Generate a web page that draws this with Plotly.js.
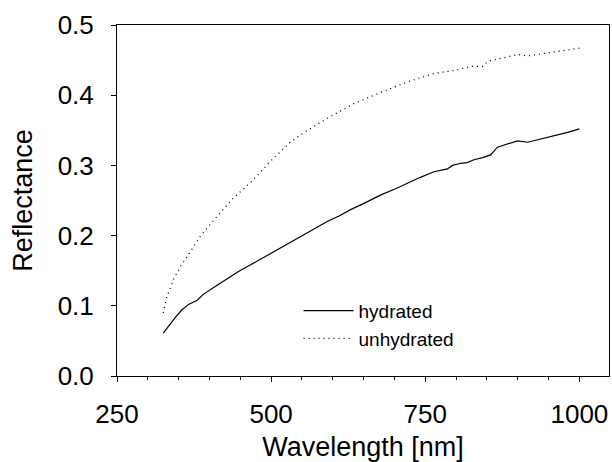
<!DOCTYPE html>
<html>
<head>
<meta charset="utf-8">
<script src="https://cdn.plot.ly/plotly-3.0.1.min.js"></script>
<style>html,body{margin:0;padding:0;background:#fff;}#chart{width:612px;height:462px;}</style>
</head>
<body>
<div id="chart"></div>
<script>
// Hydrated sample
const hydratedWavelength = [325, 335, 345, 355, 366, 380, 391, 410, 429, 447, 466, 490, 510, 530, 548, 563, 591, 610, 629, 653, 678, 700, 721, 742, 764, 786, 794, 808, 818, 829, 843, 856, 867, 881, 900, 916, 935, 954, 981, 1000];
const hydratedReflectance = [0.061, 0.073, 0.084, 0.094, 0.102, 0.108, 0.117, 0.128, 0.139, 0.149, 0.158, 0.170, 0.180, 0.190, 0.199, 0.207, 0.220, 0.228, 0.237, 0.247, 0.258, 0.266, 0.275, 0.283, 0.291, 0.295, 0.300, 0.303, 0.304, 0.308, 0.311, 0.315, 0.326, 0.330, 0.335, 0.333, 0.337, 0.341, 0.347, 0.352];
// Unhydrated sample
const unhydratedWavelength = [325, 331, 342, 353, 369, 385, 407, 437, 467, 499, 531, 557, 591, 634, 678, 721, 764, 791, 802, 824, 843, 851, 878, 900, 916, 954, 1000];
const unhydratedReflectance = [0.090, 0.113, 0.138, 0.156, 0.177, 0.199, 0.222, 0.252, 0.276, 0.306, 0.333, 0.349, 0.367, 0.388, 0.404, 0.419, 0.431, 0.434, 0.436, 0.441, 0.441, 0.448, 0.454, 0.458, 0.456, 0.461, 0.467];
const seriesNames = ["hydrated", "unhydrated"];
const xTickValues = [250, 500, 750, 1000];
const yTickValues = [0.0, 0.1, 0.2, 0.3, 0.4, 0.5];
const yTickLabels = ["0.0", "0.1", "0.2", "0.3", "0.4", "0.5"];

const FONT = "Liberation Sans, Arial, sans-serif";

const traces = [
  {x: hydratedWavelength, y: hydratedReflectance, name: seriesNames[0], type: "scatter", mode: "lines",
   line: {color: "#000", width: 1.2}},
  {x: unhydratedWavelength, y: unhydratedReflectance, name: seriesNames[1], type: "scatter", mode: "lines",
   line: {color: "#000", width: 1.3, dash: "1px,4px"}}
];

const layout = {
  width: 612, height: 462,
  margin: {l: 117, r: 3, t: 25, b: 86, pad: 0},
  paper_bgcolor: "#fff", plot_bgcolor: "#fff",
  font: {family: FONT, color: "#000", size: 26},
  showlegend: true,
  legend: {x: 0.369, y: 0.24, xanchor: "left", yanchor: "top", bgcolor: "rgba(0,0,0,0)",
           itemwidth: 50,
           font: {family: FONT, size: 19, color: "#000"}, tracegroupgap: 0},
  xaxis: {
    range: [250, 1048], showgrid: false, zeroline: false,
    showline: true, linecolor: "#000", linewidth: 1, mirror: true,
    ticks: "outside", ticklen: 5, tickwidth: 1, tickcolor: "#000",
    tickvals: xTickValues, ticktext: xTickValues.map(String),
    tickfont: {family: FONT, size: 26, color: "#000"},
    ticklabelstandoff: 10,
    minor: {dtick: 50, tick0: 250, ticks: "outside", ticklen: 3, tickcolor: "#000", tickwidth: 1, showgrid: false},
    title: {text: "Wavelength [nm]", font: {family: FONT, size: 27, color: "#000"}, standoff: 12}
  },
  yaxis: {
    range: [0, 0.5], showgrid: false, zeroline: false,
    showline: true, linecolor: "#000", linewidth: 1, mirror: true,
    ticks: "outside", ticklen: 5, tickwidth: 1, tickcolor: "#000",
    tickvals: yTickValues, ticktext: yTickLabels,
    tickfont: {family: FONT, size: 26, color: "#000"},
    ticklabelstandoff: 12,
    title: {text: "Reflectance", font: {family: FONT, size: 27, color: "#000"}, standoff: 17}
  }
};

Plotly.newPlot("chart", traces, layout, {displayModeBar: false, staticPlot: true});
</script>
</body>
</html>
